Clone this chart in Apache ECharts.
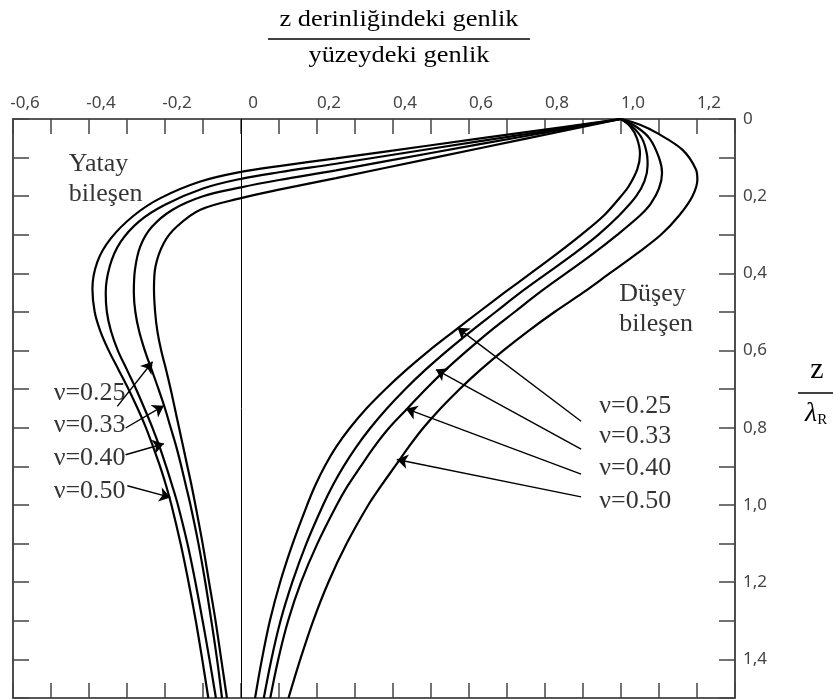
<!DOCTYPE html>
<html><head><meta charset="utf-8">
<script src="https://cdn.jsdelivr.net/npm/echarts@6/dist/echarts.min.js"></script>
<style>html,body{margin:0;padding:0;background:#fff}#c{width:833px;height:699px}</style>
</head><body><div id="c"></div><script>
// ---- data: [amplitude ratio, depth z/λR] ----
const vert025 = [[1.0,0],[1.025,0.02],[1.042,0.05],[1.05,0.09],[1.043,0.13],[1.02,0.175],[1.0,0.2],[0.955,0.25],[0.895,0.3],[0.83,0.35],[0.762,0.4],[0.693,0.45],[0.626,0.5],[0.56,0.55],[0.495,0.6],[0.435,0.65],[0.38,0.7],[0.33,0.75],[0.287,0.8],[0.25,0.85],[0.22,0.9],[0.195,0.95],[0.174,1.0],[0.136,1.1],[0.103,1.2],[0.076,1.3],[0.055,1.4],[0.037,1.5]];
const vert033 = [[1.0,0],[1.03,0.02],[1.055,0.05],[1.068,0.09],[1.07,0.12],[1.062,0.16],[1.04,0.2],[0.995,0.25],[0.94,0.3],[0.875,0.35],[0.805,0.4],[0.735,0.45],[0.67,0.5],[0.605,0.55],[0.543,0.6],[0.485,0.65],[0.432,0.7],[0.384,0.75],[0.341,0.8],[0.303,0.85],[0.27,0.9],[0.241,0.95],[0.216,1.0],[0.172,1.1],[0.135,1.2],[0.104,1.3],[0.08,1.4],[0.06,1.5]];
const vert040 = [[1.0,0],[1.04,0.02],[1.075,0.05],[1.1,0.1],[1.108,0.14],[1.1,0.18],[1.078,0.22],[1.05,0.25],[0.99,0.3],[0.925,0.35],[0.855,0.4],[0.785,0.45],[0.72,0.5],[0.655,0.55],[0.595,0.6],[0.538,0.65],[0.486,0.7],[0.438,0.75],[0.39,0.8],[0.35,0.85],[0.315,0.9],[0.281,0.95],[0.252,1.0],[0.201,1.1],[0.158,1.2],[0.124,1.3],[0.098,1.4],[0.077,1.5]];
const vert050 = [[1.0,0],[1.05,0.015],[1.094,0.036],[1.162,0.08],[1.197,0.13],[1.201,0.157],[1.188,0.2],[1.153,0.25],[1.105,0.3],[1.04,0.35],[0.97,0.4],[0.9,0.45],[0.825,0.5],[0.755,0.55],[0.69,0.6],[0.63,0.65],[0.575,0.7],[0.525,0.75],[0.48,0.8],[0.441,0.85],[0.405,0.9],[0.369,0.95],[0.335,1.0],[0.278,1.1],[0.23,1.2],[0.19,1.3],[0.156,1.4],[0.125,1.5]];

const hor025 = [[1.0,0],[0.75,0.051],[0.5,0.102],[0.25,0.153],[0.1,0.183],[0,0.205],[-0.107,0.235],[-0.168,0.278],[-0.203,0.321],[-0.225,0.382],[-0.229,0.44],[-0.226,0.5],[-0.22,0.55],[-0.21,0.6],[-0.197,0.65],[-0.185,0.7],[-0.174,0.75],[-0.163,0.8],[-0.152,0.85],[-0.141,0.9],[-0.13,0.95],[-0.12,1.0],[-0.101,1.1],[-0.084,1.2],[-0.067,1.3],[-0.052,1.4],[-0.037,1.5]];
const hor033 = [[1.0,0],[0.75,0.044],[0.5,0.088],[0.25,0.133],[0.1,0.158],[0,0.177],[-0.1,0.2],[-0.18,0.235],[-0.235,0.28],[-0.265,0.33],[-0.279,0.39],[-0.282,0.45],[-0.278,0.5],[-0.268,0.55],[-0.253,0.6],[-0.235,0.65],[-0.217,0.7],[-0.2,0.75],[-0.185,0.8],[-0.17,0.85],[-0.157,0.9],[-0.145,0.95],[-0.133,1.0],[-0.112,1.1],[-0.094,1.2],[-0.078,1.3],[-0.063,1.4],[-0.05,1.5]];
const hor040 = [[1.0,0],[0.75,0.039],[0.5,0.077],[0.25,0.116],[0.1,0.138],[0,0.155],[-0.1,0.18],[-0.2,0.222],[-0.268,0.265],[-0.318,0.32],[-0.345,0.38],[-0.356,0.45],[-0.353,0.5],[-0.342,0.55],[-0.324,0.6],[-0.3,0.65],[-0.276,0.7],[-0.254,0.75],[-0.233,0.8],[-0.214,0.85],[-0.197,0.9],[-0.181,0.95],[-0.166,1.0],[-0.141,1.1],[-0.12,1.2],[-0.101,1.3],[-0.083,1.4],[-0.066,1.5]];
const hor050 = [[1.0,0],[0.75,0.034],[0.5,0.068],[0.25,0.102],[0.1,0.122],[0,0.137],[-0.107,0.162],[-0.212,0.205],[-0.282,0.25],[-0.343,0.31],[-0.378,0.37],[-0.391,0.44],[-0.385,0.5],[-0.37,0.55],[-0.348,0.6],[-0.322,0.65],[-0.296,0.7],[-0.272,0.75],[-0.25,0.8],[-0.231,0.85],[-0.213,0.9],[-0.197,0.95],[-0.183,1.0],[-0.159,1.1],[-0.138,1.2],[-0.119,1.3],[-0.102,1.4],[-0.086,1.5]];

// annotation texts and their anchor positions (data units)
const nuTexts = ['ν=0.25','ν=0.33','ν=0.40','ν=0.50'];
const nuRightPos = [[0.943,0.745],[0.943,0.822],[0.943,0.904],[0.943,0.991]];
const nuLeftPos = [[-0.493,0.709],[-0.493,0.792],[-0.493,0.8775],[-0.493,0.963]];
const compTexts = ['Yatay\nbileşen','Düşey\nbileşen'];
const compPos = [[-0.453,0.157],[0.9955,0.4927]];
// arrows: [start, tip]
const arrowsRight = [[[0.895,0.783],[0.570,0.541]],[[0.895,0.855],[0.513,0.649]],[[0.895,0.920],[0.434,0.7505]],[[0.895,0.979],[0.410,0.882]]];
const arrowsLeft = [[[-0.3255,0.7446],[-0.2328,0.629]],[[-0.3037,0.8005],[-0.2031,0.7427]],[[-0.3037,0.8697],[-0.2031,0.8412]],[[-0.2992,0.950],[-0.1856,0.9803]]];

const titleTop = 'z derinliğindeki genlik';
const titleBottom = 'yüzeydeki genlik';

function fmt(v){
  const r = Math.round(v*10);
  if (Math.abs(v*10 - r) > 1e-6 || r % 2 !== 0) return '';
  if (r === 0) return '0';
  return (r/10).toFixed(1).replace('.', ',');
}

const SERIF = '"Liberation Serif","Times New Roman",serif';
const SANS = '"Noto Sans","DejaVu Sans",sans-serif';
const axisCommon = {
  type:'value', min:-0.6, max:1.3, interval:0.1,
  splitLine:{show:false},
  axisLine:{show:true, onZero:false, lineStyle:{color:'#222', width:1.6}},
  axisTick:{show:true, inside:true, length:15, lineStyle:{color:'#444', width:1.5}}
};
const yCommon = {
  type:'value', min:0, max:1.5, interval:0.1, inverse:true,
  splitLine:{show:false},
  axisLine:{show:true, onZero:false, lineStyle:{color:'#222', width:1.6}},
  axisTick:{show:true, inside:true, length:16, lineStyle:{color:'#444', width:1.5}}
};

const curveSets = [vert025, vert033, vert040, vert050, hor025, hor033, hor040, hor050];
const curveNames = ['Düşey ν=0.25','Düşey ν=0.33','Düşey ν=0.40','Düşey ν=0.50','Yatay ν=0.25','Yatay ν=0.33','Yatay ν=0.40','Yatay ν=0.50'];

const series = curveSets.map((d,i)=>({
  name: curveNames[i], type:'line', data:d, smooth:0.35, showSymbol:false, symbol:'none',
  lineStyle:{color:'#000', width:2.2}, silent:true, animation:false, z:3
}));
// zero line
series[0].markLine = {silent:true, symbol:'none', label:{show:false},
  lineStyle:{color:'#000', width:1, type:'solid'}, data:[{xAxis:0}], animation:false};

const labelData = [];
nuTexts.forEach((t,i)=>{ labelData.push({value:nuRightPos[i], name:t}); labelData.push({value:nuLeftPos[i], name:t}); });
compTexts.forEach((t,i)=>labelData.push({value:compPos[i], name:t}));

const arrowData = arrowsRight.concat(arrowsLeft).map(a=>[{coord:a[0]},{coord:a[1]}]);

series.push({
  type:'scatter', data:labelData, symbolSize:0, silent:true, animation:false, z:5,
  label:{show:true, position:[0,0], align:'left', verticalAlign:'middle',
    formatter:p=>p.name, fontFamily:SERIF, fontSize:26, color:'#000', lineHeight:30},
  markLine:{silent:true, symbol:['none','arrow'], symbolSize:11, label:{show:false},
    lineStyle:{color:'#000', width:1.4, type:'solid'}, data:arrowData, animation:false}
});

const chart = echarts.init(document.getElementById('c'));
chart.setOption({
  animation:false,
  backgroundColor:'#fff',
  grid:{left:13, right:98, top:119, bottom:1, containLabel:false},
  xAxis:[
    Object.assign({}, axisCommon, {position:'top',
      axisLabel:{show:true, formatter:fmt, margin:7, fontSize:17, color:'#444', fontFamily:SANS,
        padding:[0,0,0,24], showMinLabel:true, showMaxLabel:true}}),
    Object.assign({}, axisCommon, {position:'bottom', axisLabel:{show:false}})
  ],
  yAxis:[
    Object.assign({}, yCommon, {position:'right',
      axisLabel:{show:true, formatter:fmt, margin:8, fontSize:17, color:'#444', fontFamily:SANS,
        showMinLabel:true, showMaxLabel:true}}),
    Object.assign({}, yCommon, {position:'left', axisLabel:{show:false}})
  ],
  graphic:[
    {type:'text', x:399, y:20, scaleX:1.1, style:{text:titleTop, font:'24px '+SERIF, fill:'#000', align:'center', verticalAlign:'middle'}},
    {type:'line', shape:{x1:268, y1:39, x2:530, y2:39}, style:{stroke:'#000', lineWidth:1.6}},
    {type:'text', x:399, y:56, scaleX:1.1, style:{text:titleBottom, font:'24px '+SERIF, fill:'#000', align:'center', verticalAlign:'middle'}},
    {type:'text', x:817, y:370, style:{text:'z', font:'30px '+SERIF, fill:'#000', align:'center', verticalAlign:'middle'}},
    {type:'line', shape:{x1:798, y1:393, x2:836, y2:393}, style:{stroke:'#000', lineWidth:1.6}},
    {type:'text', x:805, y:414, style:{text:'{a|λ}{b|R}', align:'left', verticalAlign:'middle',
      rich:{a:{font:'italic 28px '+SERIF, fill:'#000'}, b:{font:'15px '+SERIF, fill:'#000', padding:[12,0,0,0]}}}}
  ],
  series:series
});
</script></body></html>
